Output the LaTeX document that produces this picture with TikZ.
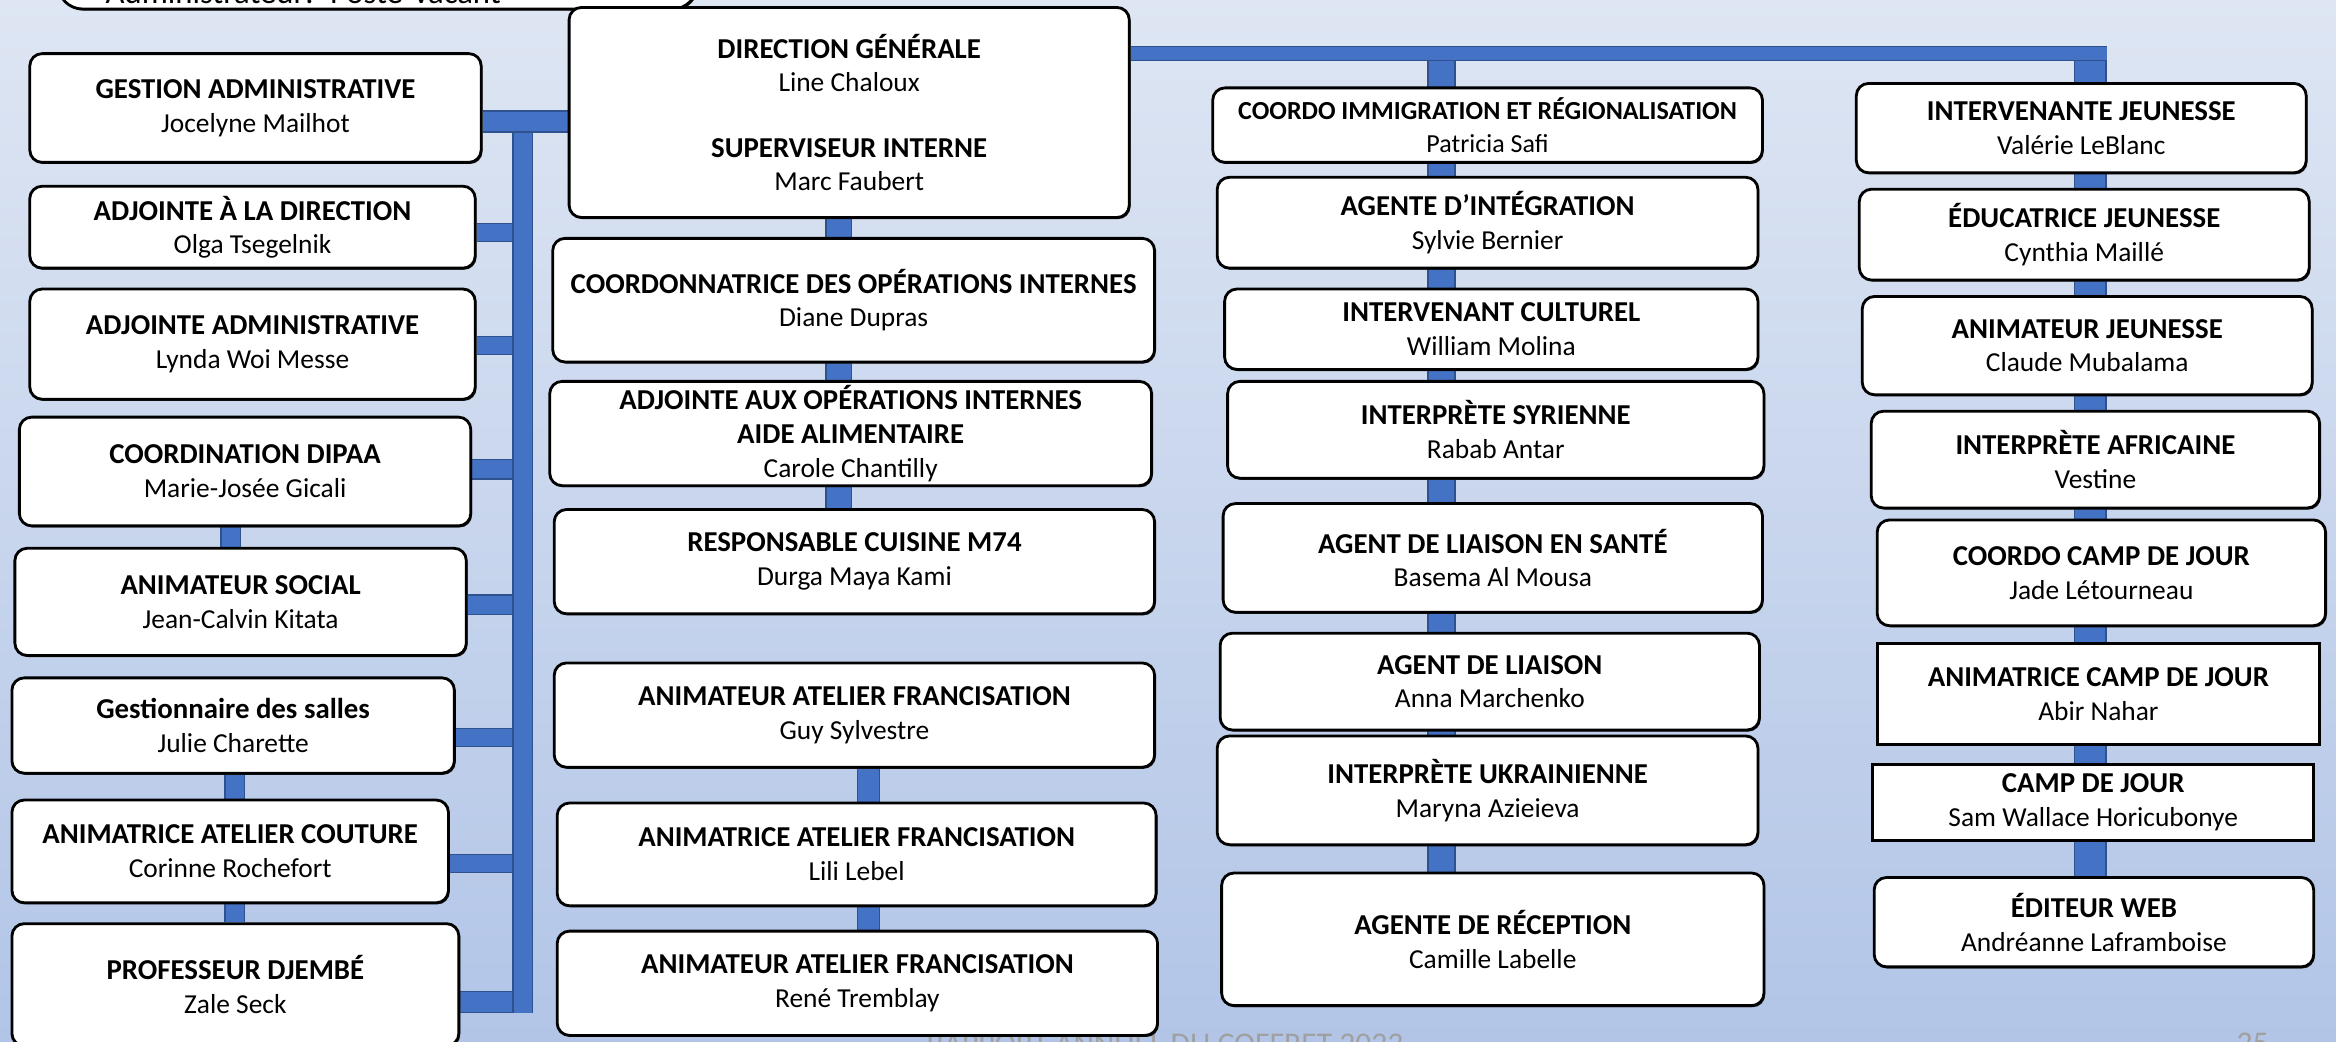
\documentclass[tikz,border=0pt]{standalone}
\usepackage{fontspec}
\setmainfont{Carlito}
\usepackage{tikz}
\usetikzlibrary{positioning,backgrounds,shadows}
\definecolor{bleulien}{HTML}{4472C4}
\definecolor{bordlien}{HTML}{2F528F}
\definecolor{fondhaut}{RGB}{222,230,243}
\definecolor{fondbas}{RGB}{178,197,231}
\definecolor{gristexte}{RGB}{160,160,160}
\newlength{\px}\setlength{\px}{0.014898cm}
\newcommand{\titre}[1]{{\fontsize{8.2}{9.6}\selectfont\bfseries #1}}
\tikzstyle{poste}=[draw,fill=white,rounded corners=3.5pt,line width=0.8pt,align=center,inner sep=0,
general shadow={fill=black!85,shadow xshift=0.35pt,shadow yshift=-0.45pt},font=\fontsize{7.8}{9.6}\selectfont]
\tikzstyle{carre}=[poste,sharp corners]
\tikzstyle{pied}=[gristexte,inner sep=0,anchor=base,font=\fontsize{9}{11}\selectfont]
\tikzset{taille/.style 2 args={minimum width=#1*\px,minimum height=#2*\px},
         lien/.style={draw=bordlien,line width=0.4pt,double=bleulien,double distance=#1*\px-0.8pt}
        }

\begin{document}
\begin{tikzpicture}[x=0.014898cm,y=-0.014898cm]
\useasboundingbox (0,0) rectangle (1568,699.4);
\begin{scope}[on background layer]
	\fill[top color=fondhaut,bottom color=fondbas] (0,0) rectangle (1568,699.4);
\end{scope}

	\node[pied] (rapport) at (782,708) {RAPPORT ANNUEL DU COFFRET 2023};
	\node[pied] (page) at (1512,707) {25};

% % % GAUCHE
	\node[poste,anchor=south west,minimum width=429*\px,text width=429*\px,
	text height=60*\px,text depth=3.5*\px,align=left,rounded corners=7pt,
	font=\fontsize{9.3}{11}\selectfont] (admin) at (38,7) 
	{\hspace*{32\px}Administrateur: Poste vacant};
	\node[poste,taille={303}{73}] (gadm) at (171.5,72.5) {\titre{GESTION ADMINISTRATIVE}\\Jocelyne Mailhot};
	\node[poste,taille={299}{55}] (adir) at (169.5,152.5) {\titre{ADJOINTE À LA DIRECTION}\\Olga Tsegelnik};
	\node[poste,taille={299}{74}] (aadm) at (169.5,231) {\titre{ADJOINTE ADMINISTRATIVE}\\Lynda Woi Messe};
	\node[poste,taille={303}{73}] (dipaa) at (164.5,316.5) {\titre{COORDINATION DIPAA}\\Marie-Josée Gicali};
	\node[poste,taille={303}{72}] (anso) at (161.5,404) {\titre{ANIMATEUR SOCIAL}\\Jean-Calvin Kitata};
	\node[poste,taille={297}{64}] (gsal) at (156.5,487) {\titre{Gestionnaire des salles}\\Julie Charette};
	\node[poste,taille={293}{69}] (cout) at (154.5,571.5) {\titre{ANIMATRICE ATELIER COUTURE}\\Corinne Rochefort};
	\node[poste,taille={300}{82}] (djem) at (158,661) {\titre{PROFESSEUR DJEMBÉ}\\Zale Seck};

% % % CENTRE
	\node[poste,taille={376}{141}] (dg) at (570,75.5) {\titre{DIRECTION GÉNÉRALE}\\Line Chaloux\\[9pt]\titre{SUPERVISEUR INTERNE}\\Marc Faubert};
	\node[poste,taille={404}{83}] (coi) at (573,201.5) {\titre{COORDONNATRICE DES OPÉRATIONS INTERNES}\\Diane Dupras};
	\node[poste,taille={404}{70}] (adjo) at (571,291) {\titre{ADJOINTE AUX OPÉRATIONS INTERNES}\\\titre{AIDE ALIMENTAIRE}\\Carole Chantilly};
	\node[poste,taille={403}{70}] (cuis) at (573.5,377) {\titre{RESPONSABLE CUISINE M74}\\Durga Maya Kami};
	\node[poste,taille={403}{70}] (guy) at (573.5,480) {\titre{ANIMATEUR ATELIER FRANCISATION}\\Guy Sylvestre};
	\node[poste,taille={402}{69}] (lili) at (575,573.5) {\titre{ANIMATRICE ATELIER FRANCISATION}\\Lili Lebel};
	\node[poste,taille={403}{70}] (rene) at (575.5,660) {\titre{ANIMATEUR ATELIER FRANCISATION}\\René Tremblay};

% % % IMMIGRATION
	\node[poste,taille={369}{50},font=\fontsize{7.4}{9.4}\selectfont] (cimm) at (998.5,84) 
	{{\bfseries COORDO IMMIGRATION ET RÉGIONALISATION}\\Patricia Safi};
	\node[poste,taille={363}{61}] (aint) at (998.5,149.5) {\titre{AGENTE D’INTÉGRATION}\\Sylvie Bernier};
	\node[poste,taille={358}{54}] (icul) at (1001,221) {\titre{INTERVENANT CULTUREL}\\William Molina};
	\node[poste,taille={360}{65}] (isyr) at (1004,288.5) {\titre{INTERPRÈTE SYRIENNE}\\Rabab Antar};
	\node[poste,taille={362}{73}] (alsa) at (1002,374.5) {\titre{AGENT DE LIAISON EN SANTÉ}\\Basema Al Mousa};
	\node[poste,taille={362}{65}] (alia) at (1000,457.5) {\titre{AGENT DE LIAISON}\\Anna Marchenko};
	\node[poste,taille={363}{73}] (iukr) at (998.5,530.5) {\titre{INTERPRÈTE UKRAINIENNE}\\Maryna Azieieva};
	\node[poste,taille={364}{89}] (arec) at (1002,630.5) {\titre{AGENTE DE RÉCEPTION}\\Camille Labelle};

% % % JEUNESSE
	\node[poste,taille={302}{60}] (ijeu) at (1397,86) {\titre{INTERVENANTE JEUNESSE}\\Valérie LeBlanc};
	\node[poste,taille={302}{61}] (ejeu) at (1399,157.5) {\titre{ÉDUCATRICE JEUNESSE}\\Cynthia Maillé};
	\node[poste,taille={302}{66}] (ajeu) at (1401,232) {\titre{ANIMATEUR JEUNESSE}\\Claude Mubalama};
	\node[poste,taille={301}{65}] (iafr) at (1406.5,308.5) {\titre{INTERPRÈTE AFRICAINE}\\Vestine};
	\node[poste,taille={301}{71}] (ccj) at (1410.5,384.5) {\titre{COORDO CAMP DE JOUR}\\Jade Létourneau};
	\node[carre,taille={297}{68}] (acj) at (1408.5,466) {\titre{ANIMATRICE CAMP DE JOUR}\\Abir Nahar};
	\node[carre,taille={296}{51}] (cj) at (1405,538.5) {\titre{CAMP DE JOUR}\\Sam Wallace Horicubonye};
	\node[poste,taille={295}{60}] (eweb) at (1405.5,619) {\titre{ÉDITEUR WEB}\\Andréanne Laframboise};

	\coordinate (bg) at (351,81.5);
	\coordinate (bgb) at (351,680);
	\coordinate (hc) at (967.5,36);
	\coordinate (hd) at (1403,31);
	\coordinate (hfin) at (1414,36);

\begin{scope}[on background layer]
	\path[draw,lien=13] (adir.east |- 0,156) -- (bg |- 0,156);
	\path[draw,lien=13] (aadm.east |- 0,232) -- (bg |- 0,232);
	\path[draw,lien=14] (dipaa.east |- 0,315) -- (bg |- 0,315);
	\path[draw,lien=14] (anso.east |- 0,406) -- (bg |- 0,406);
	\path[draw,lien=13] (gsal.east |- 0,495) -- (bg |- 0,495);
	\path[draw,lien=13] (cout.east |- 0,579.5) -- (bg |- 0,579.5);
	\path[draw,lien=15] (djem.east |- 0,672.5) -- (bg |- 0,672.5);
	\path[draw,lien=14] (bg) -- (bgb);
	\path[draw,lien=15] (gadm.east |- bg) -- (dg.west |- bg);

	\path[draw,lien=14] (dipaa.south -| 155,0) -- (anso.north -| 155,0);
	\path[draw,lien=14] (gsal.south -| 157.5,0) -- (cout.north -| 157.5,0);
	\path[draw,lien=14] (cout.south -| 157.5,0) -- (djem.north -| 157.5,0);

	\path[draw,lien=18] (dg.south -| 563,0) -- (coi.north -| 563,0);
	\path[draw,lien=18] (coi.south -| 563,0) -- (adjo.north -| 563,0);
	\path[draw,lien=18] (adjo.south -| 563,0) -- (cuis.north -| 563,0);
	\path[draw,lien=16] (guy.south -| 583,0) -- (lili.north -| 583,0);
	\path[draw,lien=16] (lili.south -| 583,0) -- (rene.north -| 583,0);

	\path[draw,lien=19] (hc) -- (arec.north -| hc);
	\path[draw,lien=22] (hd) -- (eweb.north -| hd);
	\path[draw,lien=10.5] (dg.east |- hc) -- (hfin);
\end{scope}
\end{tikzpicture}
\end{document}
